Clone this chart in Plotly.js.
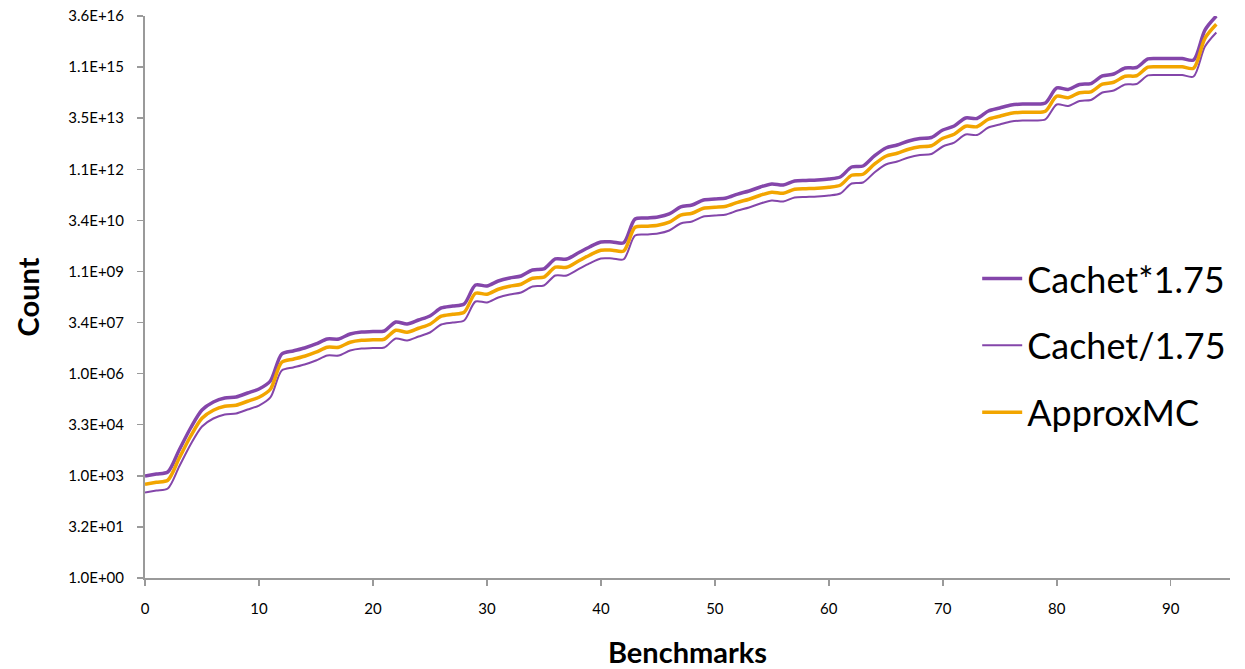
<!DOCTYPE html>
<html>
<head>
<meta charset="utf-8">
<script src="https://cdn.plot.ly/plotly-3.0.1.min.js"></script>
<style>html,body{margin:0;padding:0;background:#fff;}#chart{width:1245px;height:669px;}</style>
</head>
<body>
<div id="chart"></div>
<script>
// Benchmark index (x)
const benchmarks = Array.from({length: 95}, (_, i) => i);

// Cachet model counts
const cachet = [
  5.78e2, 6.62e2, 7.59e2, 3.37e3, 1.50e4, 5.09e4, 8.75e4, 1.15e5, 1.23e5, 1.61e5,
  2.11e5, 3.64e5, 2.27e6, 2.79e6, 3.41e6, 4.48e6, 6.28e6, 6.28e6, 8.83e6, 1.01e7,
  1.04e7, 1.08e7, 1.99e7, 1.74e7, 2.28e7, 2.99e7, 5.15e7, 5.89e7, 6.75e7, 2.45e8,
  2.29e8, 3.21e8, 3.94e8, 4.51e8, 6.78e8, 7.26e8, 1.43e9, 1.43e9, 2.15e9, 3.23e9,
  4.53e9, 4.53e9, 4.30e9, 2.15e10, 2.31e10, 2.47e10, 3.03e10, 4.87e10, 5.57e10, 7.82e10,
  8.37e10, 8.95e10, 1.17e11, 1.44e11, 1.89e11, 2.32e11, 2.16e11, 2.84e11, 2.94e11, 3.04e11,
  3.25e11, 3.72e11, 7.33e11, 7.85e11, 1.55e12, 2.66e12, 3.26e12, 4.28e12, 5.07e12, 5.42e12,
  9.02e12, 1.18e13, 2.04e13, 1.97e13, 3.27e13, 4.01e13, 4.92e13, 5.26e13, 5.26e13, 5.64e13,
  1.56e14, 1.41e14, 1.98e14, 2.11e14, 3.52e14, 4.03e14, 6.05e14, 6.26e14, 1.12e15, 1.15e15,
  1.15e15, 1.15e15, 1.04e15, 7.96e15, 2.06e16
];

// ApproxMC counts (indistinguishable from Cachet)
const approxmc = [
  5.78e2, 6.62e2, 7.59e2, 3.37e3, 1.50e4, 5.09e4, 8.75e4, 1.15e5, 1.23e5, 1.61e5,
  2.11e5, 3.64e5, 2.27e6, 2.79e6, 3.41e6, 4.48e6, 6.28e6, 6.28e6, 8.83e6, 1.01e7,
  1.04e7, 1.08e7, 1.99e7, 1.74e7, 2.28e7, 2.99e7, 5.15e7, 5.89e7, 6.75e7, 2.45e8,
  2.29e8, 3.21e8, 3.94e8, 4.51e8, 6.78e8, 7.26e8, 1.43e9, 1.43e9, 2.15e9, 3.23e9,
  4.53e9, 4.53e9, 4.30e9, 2.15e10, 2.31e10, 2.47e10, 3.03e10, 4.87e10, 5.57e10, 7.82e10,
  8.37e10, 8.95e10, 1.17e11, 1.44e11, 1.89e11, 2.32e11, 2.16e11, 2.84e11, 2.94e11, 3.04e11,
  3.25e11, 3.72e11, 7.33e11, 7.85e11, 1.55e12, 2.66e12, 3.26e12, 4.28e12, 5.07e12, 5.42e12,
  9.02e12, 1.18e13, 2.04e13, 1.97e13, 3.27e13, 4.01e13, 4.92e13, 5.26e13, 5.26e13, 5.64e13,
  1.56e14, 1.41e14, 1.98e14, 2.11e14, 3.52e14, 4.03e14, 6.05e14, 6.26e14, 1.12e15, 1.15e15,
  1.15e15, 1.15e15, 1.04e15, 7.96e15, 2.06e16
];

const factor = 1.75;
const cachetUpper = cachet.map(v => v * factor);
const cachetLower = cachet.map(v => v / factor);

// Y-axis ticks (powers of 32)
const yTickVals = [1, 32, 1024, 32768, 1048576, 33554432, 1073741824, 34359738368,
  1099511627776, 35184372088832, 1125899906842624, 36028797018963968];
const yTickText = ['1.0E+00', '3.2E+01', '1.0E+03', '3.3E+04', '1.0E+06', '3.4E+07',
  '1.1E+09', '3.4E+10', '1.1E+12', '3.5E+13', '1.1E+15', '3.6E+16'];
const xTickVals = [0, 10, 20, 30, 40, 50, 60, 70, 80, 90];

const purple = '#8446AA';
const orange = '#F2A500';

const traces = [
  {x: benchmarks, y: cachetUpper, name: 'Cachet*1.75', type: 'scatter', mode: 'lines',
   line: {color: purple, width: 3.5, shape: 'spline', smoothing: 0.8}, legendgroup: 'a'},
  {x: benchmarks, y: cachetLower, name: 'Cachet/1.75', type: 'scatter', mode: 'lines',
   line: {color: purple, width: 2, shape: 'spline', smoothing: 0.8}, legendgroup: 'b'},
  {x: benchmarks, y: approxmc, name: 'ApproxMC', type: 'scatter', mode: 'lines',
   line: {color: orange, width: 3.5, shape: 'spline', smoothing: 0.8}, legendgroup: 'c'}
];

const layout = {
  width: 1245, height: 669,
  margin: {l: 145, r: 15, t: 16, b: 91},
  paper_bgcolor: '#fff', plot_bgcolor: '#fff',
  font: {family: 'Lato, "Open Sans", sans-serif', color: '#000'},
  showlegend: true,
  legend: {x: 0.767, y: 0.586, xanchor: 'left', yanchor: 'top',
    font: {size: 36, family: 'Lato, "Open Sans", sans-serif', color: '#000'},
    tracegroupgap: 17, bgcolor: 'rgba(0,0,0,0)', itemwidth: 40,
    traceorder: 'grouped'},
  xaxis: {
    range: [0, 95.2], showgrid: false, zeroline: false,
    showline: true, linecolor: '#9a9a9a', linewidth: 2,
    ticks: 'outside', ticklen: 6, tickcolor: '#9a9a9a', tickwidth: 1.5,
    ticklabelstandoff: 10,
    tickvals: xTickVals, tickfont: {size: 15, family: 'Lato, sans-serif', color: '#000'},
    title: {text: 'Benchmarks', font: {size: 29, family: 'Lato, sans-serif', weight: 'bold', color: '#000'}, standoff: 30}
  },
  yaxis: {
    type: 'log', range: [0, Math.log10(36028797018963968)],
    showgrid: false, zeroline: false,
    showline: true, linecolor: '#9a9a9a', linewidth: 2,
    ticks: 'outside', ticklen: 6, tickcolor: '#9a9a9a', tickwidth: 1.5,
    ticklabelstandoff: 10,
    tickvals: yTickVals, ticktext: yTickText,
    tickfont: {size: 15, family: 'Lato, sans-serif', color: '#000'},
    title: {text: 'Count', font: {size: 29, family: 'Lato, sans-serif', weight: 'bold', color: '#000'}, standoff: 20}
  }
};

Plotly.newPlot('chart', traces, layout, {displayModeBar: false, staticPlot: true});
</script>
</body>
</html>
